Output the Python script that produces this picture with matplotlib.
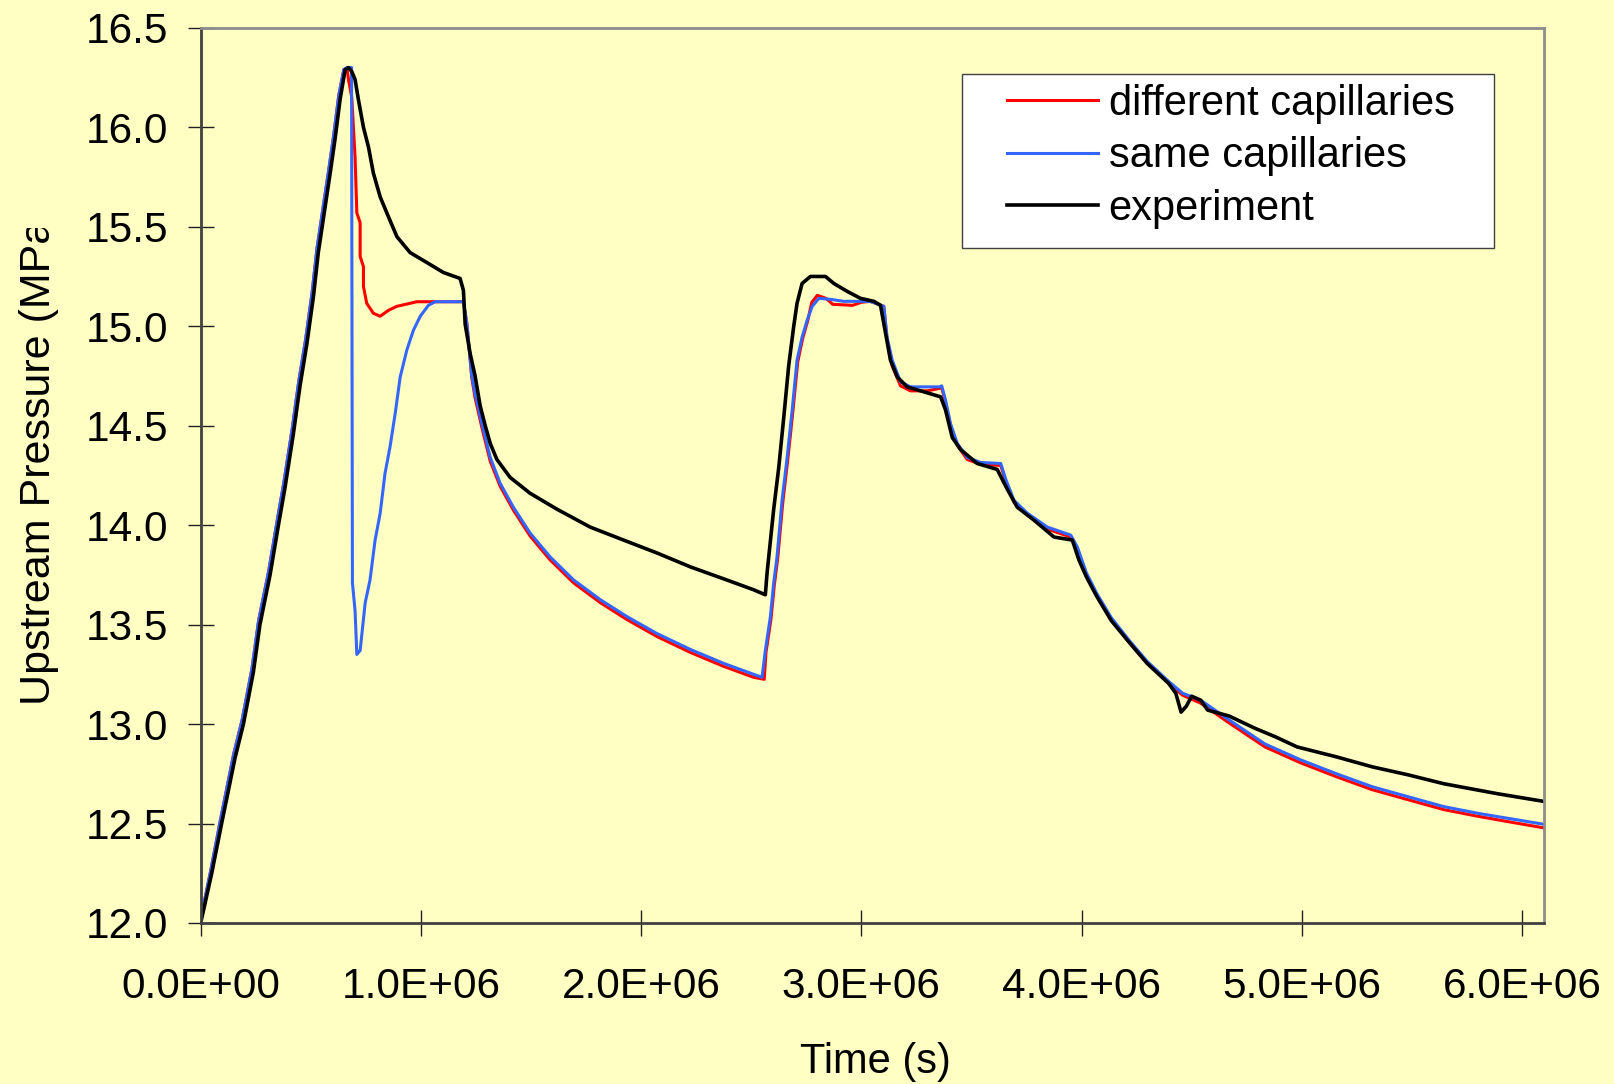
import matplotlib
matplotlib.use("Agg")
import matplotlib.pyplot as plt
from matplotlib.patches import Rectangle
from matplotlib.transforms import Bbox

plt.rcParams['font.family'] = ['Liberation Sans', 'DejaVu Sans']

# ------------------------------------------------------------- data (time in 1E6 s, pressure in MPa)

t_exp = [0, 0.05, 0.095, 0.156, 0.194, 0.239, 0.269, 0.315, 0.353, 0.383, 0.421, 0.451,
         0.482, 0.512, 0.534, 0.565, 0.588, 0.610, 0.633, 0.656, 0.671, 0.686, 0.701, 0.716,
         0.739, 0.762, 0.784, 0.815, 0.845, 0.891, 0.951, 1.027, 1.102, 1.178, 1.193, 1.201,
         1.224, 1.246, 1.269, 1.292, 1.315, 1.345, 1.405, 1.496, 1.618, 1.769, 1.920, 2.072,
         2.224, 2.375, 2.511, 2.564, 2.572, 2.587, 2.602, 2.625, 2.648, 2.670, 2.693, 2.708,
         2.731, 2.769, 2.837, 2.875, 2.936, 2.996, 3.057, 3.087, 3.110, 3.132, 3.163, 3.208,
         3.284, 3.360, 3.382, 3.413, 3.451, 3.526, 3.617, 3.663, 3.708, 3.784, 3.875, 3.958,
         3.988, 4.022, 4.070, 4.135, 4.217, 4.298, 4.395, 4.428, 4.452, 4.476, 4.500, 4.541,
         4.573, 4.671, 4.785, 4.882, 4.979, 5.158, 5.320, 5.482, 5.645, 5.888, 6.106]
p_exp = [12.0, 12.25, 12.5, 12.83, 13.0, 13.26, 13.5, 13.75, 14.0, 14.19, 14.46, 14.70,
         14.91, 15.15, 15.37, 15.60, 15.77, 15.94, 16.14, 16.29, 16.30, 16.28, 16.24, 16.14,
         16.0, 15.90, 15.77, 15.65, 15.57, 15.45, 15.37, 15.32, 15.27, 15.24, 15.18, 15.01,
         14.86, 14.75, 14.60, 14.50, 14.41, 14.33, 14.24, 14.16, 14.08, 13.99, 13.925, 13.86,
         13.79, 13.73, 13.675, 13.65, 13.76, 13.92, 14.08, 14.29, 14.545, 14.80, 15.0, 15.115,
         15.215, 15.25, 15.25, 15.215, 15.175, 15.14, 15.125, 15.105, 14.965, 14.83, 14.745, 14.695,
         14.67, 14.645, 14.58, 14.44, 14.38, 14.31, 14.28, 14.18, 14.09, 14.025, 13.94, 13.925,
         13.825, 13.74, 13.64, 13.52, 13.41, 13.305, 13.205, 13.155, 13.06, 13.09, 13.14, 13.12,
         13.07, 13.04, 12.98, 12.935, 12.885, 12.835, 12.785, 12.745, 12.70, 12.65, 12.61]

t_same = [0, 0.045, 0.09, 0.15, 0.188, 0.233, 0.263, 0.309, 0.347, 0.377, 0.415, 0.445,
          0.476, 0.506, 0.528, 0.559, 0.582, 0.604, 0.627, 0.650, 0.665, 0.685, 0.689, 0.701,
          0.709, 0.724, 0.747, 0.769, 0.792, 0.815, 0.837, 0.860, 0.883, 0.906, 0.936, 0.966,
          0.997, 1.034, 1.065, 1.193, 1.209, 1.231, 1.246, 1.277, 1.315, 1.360, 1.420, 1.496,
          1.587, 1.693, 1.815, 1.936, 2.072, 2.224, 2.375, 2.511, 2.549, 2.564, 2.587, 2.602,
          2.617, 2.640, 2.663, 2.686, 2.708, 2.731, 2.754, 2.777, 2.807, 2.860, 2.920, 3.040,
          3.102, 3.117, 3.140, 3.178, 3.223, 3.355, 3.365, 3.382, 3.405, 3.436, 3.481, 3.542,
          3.633, 3.656, 3.693, 3.754, 3.845, 3.951, 3.981, 4.022, 4.070, 4.135, 4.217, 4.298,
          4.395, 4.459, 4.541, 4.671, 4.833, 4.995, 5.158, 5.320, 5.482, 5.645, 5.807, 5.970,
          6.106]
p_same = [12.02, 12.26, 12.52, 12.85, 13.02, 13.28, 13.52, 13.77, 14.02, 14.21, 14.48, 14.72,
          14.93, 15.17, 15.39, 15.62, 15.79, 15.96, 16.16, 16.29, 16.30, 16.30, 13.71, 13.57,
          13.35, 13.37, 13.61, 13.725, 13.925, 14.06, 14.26, 14.395, 14.56, 14.745, 14.88, 14.98,
          15.05, 15.105, 15.123, 15.123, 15.01, 14.75, 14.66, 14.51, 14.34, 14.21, 14.09, 13.96,
          13.84, 13.725, 13.625, 13.54, 13.455, 13.375, 13.305, 13.25, 13.235, 13.37, 13.54, 13.71,
          13.84, 14.125, 14.34, 14.58, 14.83, 14.945, 15.03, 15.10, 15.14, 15.135, 15.125, 15.125,
          15.10, 14.945, 14.83, 14.72, 14.695, 14.695, 14.70, 14.63, 14.51, 14.41, 14.34, 14.315,
          14.31, 14.23, 14.125, 14.06, 13.99, 13.95, 13.89, 13.76, 13.655, 13.535, 13.42, 13.315,
          13.215, 13.155, 13.12, 13.02, 12.90, 12.82, 12.75, 12.685, 12.635, 12.585, 12.55, 12.52,
          12.495]

t_diff = [0, 0.045, 0.09, 0.15, 0.188, 0.233, 0.263, 0.309, 0.347, 0.377, 0.415, 0.445,
          0.476, 0.506, 0.528, 0.559, 0.582, 0.604, 0.627, 0.650, 0.665, 0.671, 0.686, 0.701,
          0.709, 0.724, 0.724, 0.739, 0.739, 0.754, 0.784, 0.815, 0.853, 0.891, 0.951, 0.981,
          1.193, 1.209, 1.231, 1.246, 1.277, 1.315, 1.360, 1.420, 1.496, 1.587, 1.693, 1.815,
          1.936, 2.072, 2.224, 2.375, 2.511, 2.559, 2.567, 2.590, 2.605, 2.620, 2.643, 2.666,
          2.689, 2.711, 2.734, 2.757, 2.775, 2.800, 2.840, 2.870, 2.960, 3.000, 3.040, 3.102,
          3.117, 3.140, 3.178, 3.223, 3.300, 3.365, 3.382, 3.405, 3.436, 3.481, 3.542, 3.633,
          3.656, 3.693, 3.754, 3.845, 3.951, 3.981, 4.022, 4.070, 4.135, 4.217, 4.298, 4.395,
          4.459, 4.541, 4.671, 4.833, 4.995, 5.158, 5.320, 5.482, 5.645, 5.807, 5.970, 6.106]
p_diff = [12.02, 12.26, 12.52, 12.85, 13.02, 13.28, 13.52, 13.77, 14.02, 14.21, 14.48, 14.72,
          14.93, 15.17, 15.39, 15.62, 15.79, 15.96, 16.16, 16.29, 16.29, 16.24, 16.15, 15.85,
          15.57, 15.52, 15.35, 15.30, 15.20, 15.115, 15.065, 15.05, 15.08, 15.10, 15.115, 15.123,
          15.123, 15.01, 14.74, 14.64, 14.49, 14.32, 14.195, 14.075, 13.945, 13.825, 13.71, 13.61,
          13.525, 13.44, 13.36, 13.29, 13.235, 13.225, 13.36, 13.53, 13.70, 13.83, 14.11, 14.33,
          14.57, 14.82, 14.94, 15.03, 15.12, 15.155, 15.14, 15.11, 15.105, 15.12, 15.125, 15.10,
          14.93, 14.80, 14.70, 14.675, 14.675, 14.69, 14.62, 14.50, 14.40, 14.33, 14.305, 14.30,
          14.22, 14.115, 14.05, 13.98, 13.94, 13.88, 13.75, 13.645, 13.525, 13.41, 13.305, 13.205,
          13.145, 13.105, 13.005, 12.885, 12.805, 12.735, 12.67, 12.62, 12.57, 12.535, 12.503, 12.477]

x_ticks = [0, 1e6, 2e6, 3e6, 4e6, 5e6, 6e6]
x_labels = ["0.0E+00", "1.0E+06", "2.0E+06", "3.0E+06", "4.0E+06", "5.0E+06", "6.0E+06"]
y_ticks = [12.0, 12.5, 13.0, 13.5, 14.0, 14.5, 15.0, 15.5, 16.0, 16.5]

# -------------------------------------------------------------

bg = "#FFFFC4"
W, H = 1614, 1084
fig = plt.figure(figsize=(W / 100, H / 100), dpi=100, facecolor=bg)
ax = fig.add_axes([200.7 / W, 161 / H, 1343.3 / W, 895.2 / H], facecolor=bg)

ax.plot([t * 1e6 for t in t_diff], p_diff, color="#FF0000", lw=2.2, label="different capillaries")
ax.plot([t * 1e6 for t in t_same], p_same, color="#3366FF", lw=2.2, label="same capillaries")
ax.plot([t * 1e6 for t in t_exp], p_exp, color="black", lw=2.6, label="experiment")

ax.set_xlim(0, 6.1e6)
ax.set_ylim(12.0, 16.5)
ax.set_xticks(x_ticks)
ax.set_xticklabels(x_labels)
ax.set_yticks(y_ticks)
ax.set_yticklabels(["%.1f" % v for v in y_ticks])

ax.tick_params(axis="both", direction="inout", length=18.7, width=1.0, color="#202020",
               labelsize=30.5)
ax.tick_params(axis="x", pad=22)
ax.tick_params(axis="y", pad=14)

for s in ["left", "bottom"]:
    ax.spines[s].set_color("#404040")
    ax.spines[s].set_linewidth(2.0)
for s in ["top", "right"]:
    ax.spines[s].set_color("#8c8c8c")
    ax.spines[s].set_linewidth(2.0)

# -------------------------------------------------------------

fig.text(875 / W, 11 / H, "Time (s)", fontsize=30, ha="center", va="baseline")

ylab = fig.text(39.5 / W, (H - 455.5) / H, "Upstream Pressure (MPa)", fontsize=31,
                rotation=90, ha="center", va="center")
ylab.set_clip_box(Bbox([[0, 0], [200, H - 228]]))
ylab.set_clip_on(True)

# legend box
ax.add_patch(Rectangle((962 / W, (H - 248) / H), 532 / W, 174 / H, transform=fig.transFigure,
                       facecolor="white", edgecolor="#404040", lw=1.0, zorder=4))
leg = ax.legend(loc="upper left", bbox_to_anchor=(1007 / W, (H - 84) / H),
                bbox_transform=fig.transFigure, frameon=False, fontsize=30,
                handlelength=2.18, handletextpad=0.26, labelspacing=0.3,
                borderpad=0, borderaxespad=0)
leg.set_zorder(5)

fig.savefig("out.png", dpi=100, facecolor=bg)
